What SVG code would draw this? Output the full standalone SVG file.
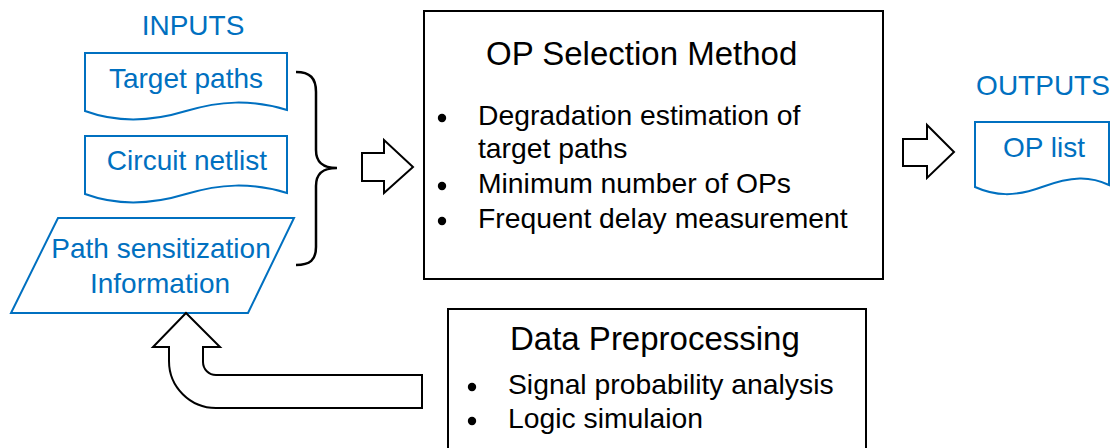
<svg xmlns="http://www.w3.org/2000/svg" width="1118" height="448" viewBox="0 0 1118 448">
  <style>
    .blue-shape { fill: #ffffff; stroke: #0070C0; stroke-width: 2; stroke-linejoin: miter; }
    .box { fill: #ffffff; stroke: #000000; stroke-width: 2; }
    .hollow { fill: #ffffff; stroke: #000000; stroke-width: 2; stroke-linejoin: miter; }
    .brace { fill: none; stroke: #000000; stroke-width: 2.5; }
    .blue-text { font-family: "Liberation Sans", Arial, sans-serif; font-size: 28px; fill: #0070C0; }
    .title { font-family: "Liberation Sans", Arial, sans-serif; font-size: 33px; fill: #000000; }
    .item { font-family: "Liberation Sans", Arial, sans-serif; font-size: 28.3px; fill: #000000; }
    .dot { fill: #000000; }
  </style>

  <!-- Input labels -->
  <text class="blue-text" x="193" y="35" text-anchor="middle">INPUTS</text>

  <g id="target-paths">
    <path class="blue-shape" d="M 85 53 H 287 V 110 C 250 99, 220 101, 186 111 C 150 122, 115 122, 85 111 Z"/>
    <text class="blue-text" x="186" y="88" text-anchor="middle">Target paths</text>
  </g>

  <g id="circuit-netlist">
    <path class="blue-shape" d="M 85 136 H 287 V 193 C 250 182, 220 184, 186 194 C 150 205, 115 205, 85 194 Z"/>
    <text class="blue-text" x="187" y="170" text-anchor="middle">Circuit netlist</text>
  </g>

  <g id="path-sensitization">
    <path class="blue-shape" d="M 58 218 L 294 218 L 248 313 L 11 313 Z"/>
    <text class="blue-text" x="161" y="258" text-anchor="middle">Path sensitization</text>
    <text class="blue-text" x="160" y="293" text-anchor="middle">Information</text>
  </g>

  <g id="op-selection">
    <rect class="box" x="424" y="11" width="459" height="268"/>
    <text class="title" x="486" y="65">OP Selection Method</text>
    <circle class="dot" cx="442" cy="118" r="4.2"/>
    <text class="item" x="478" y="125">Degradation estimation of</text>
    <text class="item" x="478" y="158">target paths</text>
    <circle class="dot" cx="442" cy="186" r="4.2"/>
    <text class="item" x="478" y="193">Minimum number of OPs</text>
    <circle class="dot" cx="442" cy="221" r="4.2"/>
    <text class="item" x="478" y="228">Frequent delay measurement</text>
  </g>

  <g id="data-preprocessing">
    <rect class="box" x="448" y="309" width="418" height="160"/>
    <text class="title" x="510" y="350">Data Preprocessing</text>
    <circle class="dot" cx="472" cy="387" r="4.2"/>
    <text class="item" x="508" y="394">Signal probability analysis</text>
    <circle class="dot" cx="472" cy="421" r="4.2"/>
    <text class="item" x="508" y="428">Logic simulaion</text>
  </g>

  <!-- Output labels -->
  <text class="blue-text" x="1043" y="95" text-anchor="middle">OUTPUTS</text>

  <g id="op-list">
    <path class="blue-shape" d="M 975 122 H 1109 V 185 C 1090 176, 1072 176, 1042 187 C 1015 197, 995 196, 975 187 Z"/>
    <text class="blue-text" x="1044" y="157" text-anchor="middle">OP list</text>
  </g>

  <g id="connectors">
    <!-- brace grouping the inputs -->
    <path class="brace" d="M 296 72 C 310 72, 316 78, 316 92 L 316 150 C 316 162, 322 168, 337 168 C 322 168, 316 174, 316 186 L 316 247 C 316 260, 310 265, 296 265"/>
    <!-- inputs to method -->
    <path class="hollow" d="M 362 153 L 384 153 L 384 140 L 413 167 L 384 193 L 384 181 L 362 181 Z"/>
    <!-- method to outputs -->
    <path class="hollow" d="M 903 139 L 927 139 L 927 125 L 954 152 L 927 178 L 927 166 L 903 166 Z"/>
    <!-- preprocessing feeds back to sensitization info -->
    <path class="hollow" d="M 186 313 L 220 347 L 203 347 L 203 362 A 13 13 0 0 0 216 375 L 422 375 L 422 408 L 216 408 A 47 47 0 0 1 169 361 L 169 347 L 153 347 Z"/>
  </g>
</svg>
